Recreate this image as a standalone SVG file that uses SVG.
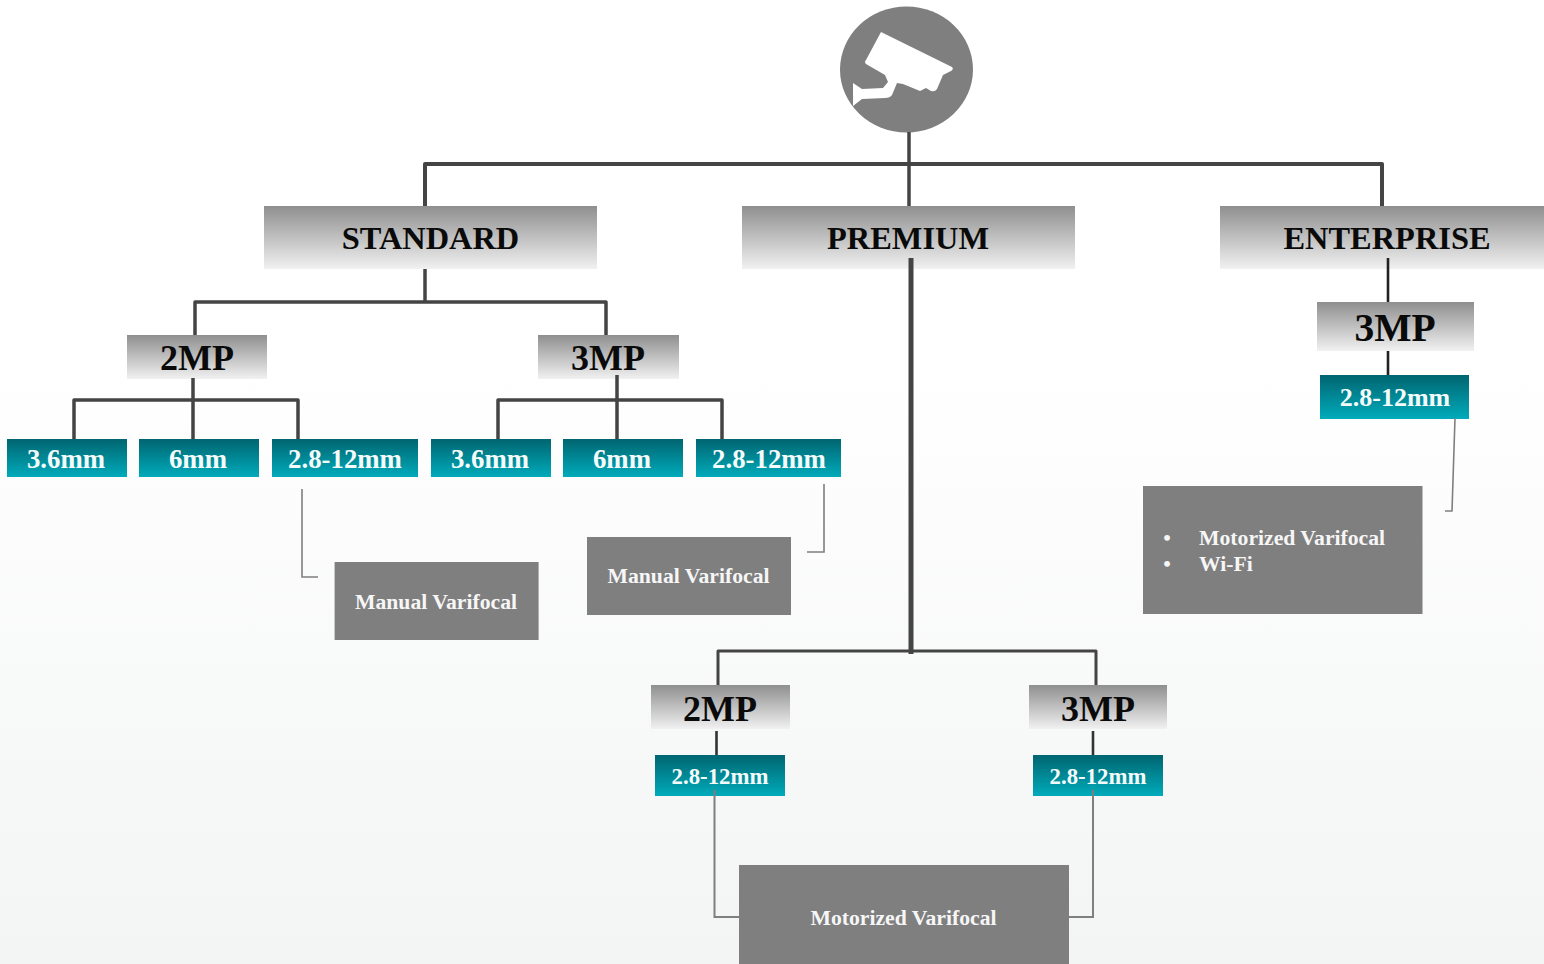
<svg xmlns="http://www.w3.org/2000/svg" width="1544" height="964" viewBox="0 0 1544 964">
<style>
text{font-family:"Liberation Serif","Times New Roman",serif;font-weight:700;text-anchor:middle}
.h{font-size:32.400px;fill:#0a0a0a}
.m{font-size:36px;fill:#0a0a0a}
.e{font-size:39.500px;fill:#0a0a0a}
.t{font-size:26.800px;fill:#f4fbfb}
.u{font-size:26px;fill:#f4fbfb}
.s{font-size:22.800px;fill:#f4fbfb}
.n{font-size:21.700px;fill:#f6f6f6}
.l{text-anchor:start}
.c{fill:none;stroke:#444;stroke-width:4;stroke-linejoin:round}
.d{fill:none;stroke:#7f7f7f;stroke-width:1.6}
.g{fill:url(#grey)}.b{fill:url(#teal)}.k{fill:#7f7f7f}
</style>
<defs>
<linearGradient id="bg" x1="0" y1="0" x2="0" y2="1"><stop offset="0" stop-color="#fff"/><stop offset=".38" stop-color="#fff"/><stop offset="1" stop-color="#f3f4f4"/></linearGradient>
<linearGradient id="grey" x1="0" y1="0" x2="0" y2="1"><stop offset="0" stop-color="#8f8f8f"/><stop offset="1" stop-color="#f1f1f1"/></linearGradient>
<linearGradient id="teal" x1="0" y1="0" x2="0" y2="1"><stop offset="0" stop-color="#006570"/><stop offset="1" stop-color="#00abbb"/></linearGradient>
</defs>
<rect width="1544" height="964" fill="url(#bg)"/>
<g id="camera">
<ellipse class="k" cx="906.500" cy="69.500" rx="66.500" ry="63"/>
<path fill="#fff" d="M881 32L952 67Q954 69 951 71L943 75L937 89Q935 92 931 91L926 88L920 91L903 84L897 83L892 95Q890 98 885 98L862 99L853 106V83L862 89L883 88L888 82L885 75L866 64Q864 62 866 60Z"/>
</g>
<g id="standard"><rect class="g" x="264" y="206" width="333" height="63"/><text class="h" x="430.500" y="249">STANDARD</text></g>
<g id="premium"><rect class="g" x="742" y="206" width="333" height="63"/><text class="h" x="908" y="249">PREMIUM</text></g>
<g id="enterprise"><rect class="g" x="1220" y="206" width="324" height="63"/><text class="h" x="1387" y="249">ENTERPRISE</text></g>
<g id="std-2mp"><rect class="g" x="127" y="335" width="140" height="44"/><text class="m" x="197" y="370">2MP</text></g>
<g id="std-3mp"><rect class="g" x="538" y="335" width="141" height="44"/><text class="m" x="608" y="370">3MP</text></g>
<g id="ent-3mp"><rect class="g" x="1317" y="302" width="157" height="49"/><text class="e" x="1395" y="341">3MP</text></g>
<g id="pre-2mp"><rect class="g" x="651" y="685" width="139" height="44"/><text class="m" x="720" y="721">2MP</text></g>
<g id="pre-3mp"><rect class="g" x="1029" y="685" width="138" height="44"/><text class="m" x="1098" y="721">3MP</text></g>
<g id="s2-36"><rect class="b" x="7" y="439" width="120" height="38"/><text class="t" x="66" y="468">3.6mm</text></g>
<g id="s2-6"><rect class="b" x="139" y="439" width="120" height="38"/><text class="t" x="198" y="468">6mm</text></g>
<g id="s2-28"><rect class="b" x="272" y="439" width="146" height="38"/><text class="t" x="345" y="468">2.8-12mm</text></g>
<g id="s3-36"><rect class="b" x="431" y="439" width="120" height="38"/><text class="t" x="490" y="468">3.6mm</text></g>
<g id="s3-6"><rect class="b" x="563" y="439" width="120" height="38"/><text class="t" x="622" y="468">6mm</text></g>
<g id="s3-28"><rect class="b" x="696" y="439" width="145" height="38"/><text class="t" x="769" y="468">2.8-12mm</text></g>
<g id="e3-28"><rect class="b" x="1320" y="375" width="149" height="44"/><text class="u" x="1395" y="406">2.8-12mm</text></g>
<g id="p2-28"><rect class="b" x="655" y="755" width="130" height="41"/><text class="s" x="720" y="784">2.8-12mm</text></g>
<g id="p3-28"><rect class="b" x="1033" y="755" width="130" height="41"/><text class="s" x="1098" y="784">2.8-12mm</text></g>
<g id="note-s2"><rect class="k" x="334.600" y="562" width="204" height="78"/><text class="n" x="436" y="609">Manual Varifocal</text></g>
<g id="note-s3"><rect class="k" x="587" y="537" width="204" height="78"/><text class="n" x="688.500" y="583">Manual Varifocal</text></g>
<g id="note-e"><rect class="k" x="1143" y="486" width="279.500" height="128"/><text class="n" x="1167" y="545">•</text><text class="n l" x="1199" y="545">Motorized Varifocal</text><text class="n" x="1167" y="571">•</text><text class="n l" x="1199" y="571">Wi-Fi</text></g>
<g id="note-p"><rect class="k" x="739" y="865" width="330" height="99"/><text class="n" x="903.500" y="925">Motorized Varifocal</text></g>
<g id="connectors">
<path class="c" style="stroke-width:3.500" d="M909 132V206"/>
<path class="c" d="M425 206V164H1382V206"/>
<path class="c" style="stroke-width:3.500" d="M425 269V302"/>
<path class="c" style="stroke-width:3.500" d="M195 335V302H606V335"/>
<path class="c" style="stroke-width:3.500" d="M193 378V439M74 439V400H298V439"/>
<path class="c" style="stroke-width:3.500" d="M617 375V439M498 439V400H722V439"/>
<path class="c" style="stroke-width:5" d="M911 258V654"/>
<path class="c" style="stroke-width:3" d="M718 685V651H1096V685"/>
<path class="c" style="stroke:#222;stroke-width:2.600" d="M1388 258V302M1388 351V375"/>
<path class="c" style="stroke:#333;stroke-width:2.600" d="M716.500 731V755M1093 731V755"/>
<path class="d" d="M302 489V577H318"/>
<path class="d" d="M824 484V552H807"/>
<path class="d" d="M1455 418L1452 511H1445"/>
<path class="d" style="stroke-width:2" d="M714.500 790V917H739"/>
<path class="d" style="stroke-width:2" d="M1093 790V917H1069"/>
</g>
</svg>
